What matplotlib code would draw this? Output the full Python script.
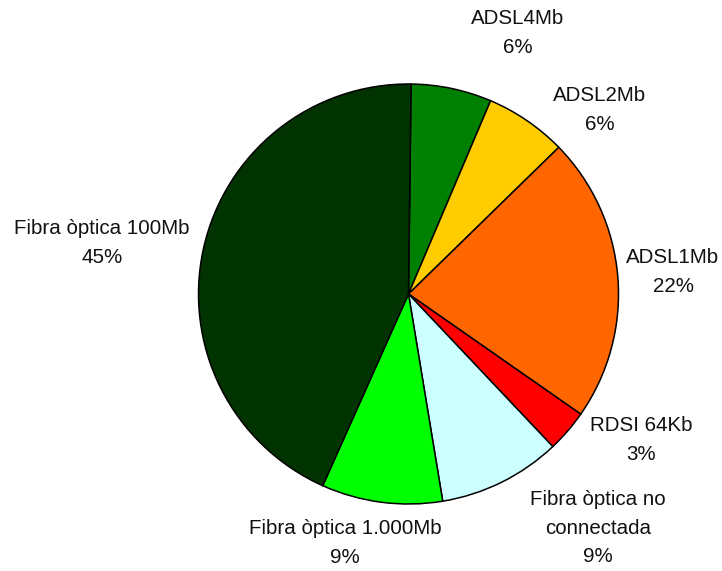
import matplotlib.pyplot as plt

plt.rcParams['font.family'] = ['Liberation Sans', 'DejaVu Sans']

# slices, clockwise from the top
categories = ['ADSL4Mb', 'ADSL2Mb', 'ADSL1Mb', 'RDSI 64Kb',
              'Fibra òptica no\nconnectada', 'Fibra òptica 1.000Mb',
              'Fibra òptica 100Mb']
values = [6.2, 6.3, 22.0, 3.25, 9.45, 9.3, 43.5]
pct_labels = ['6%', '6%', '22%', '3%', '9%', '9%', '45%']
colors = ['#008000', '#FFCC00', '#FF6600', '#FF0000', '#CCFFFF', '#00FF00', '#003300']

# label block centres in pixels (x, y from top)
label_pos = [(518, 33), (600, 110), (673, 272), (641, 440),
             (598, 528), (345, 543), (102, 243)]

W, H = 722, 571
fig = plt.figure(figsize=(W / 100, H / 100), dpi=100)
ax = fig.add_axes([0, 0, 1, 1])

ax.pie(values, colors=colors, startangle=89.3, counterclock=False,
       center=(408.5, H - 294), radius=210,
       wedgeprops=dict(edgecolor='black', linewidth=1.1))

for cat, pct, (x, y) in zip(categories, pct_labels, label_pos):
    ax.text(x, H - y, cat + '\n' + pct, ha='center', va='center',
            multialignment='center', fontsize=14.8, linespacing=1.65,
            color='#111111')

ax.set_xlim(0, W)
ax.set_ylim(0, H)
ax.set_aspect('equal')
ax.axis('off')

fig.savefig('out.png', dpi=100)
plt.close()
